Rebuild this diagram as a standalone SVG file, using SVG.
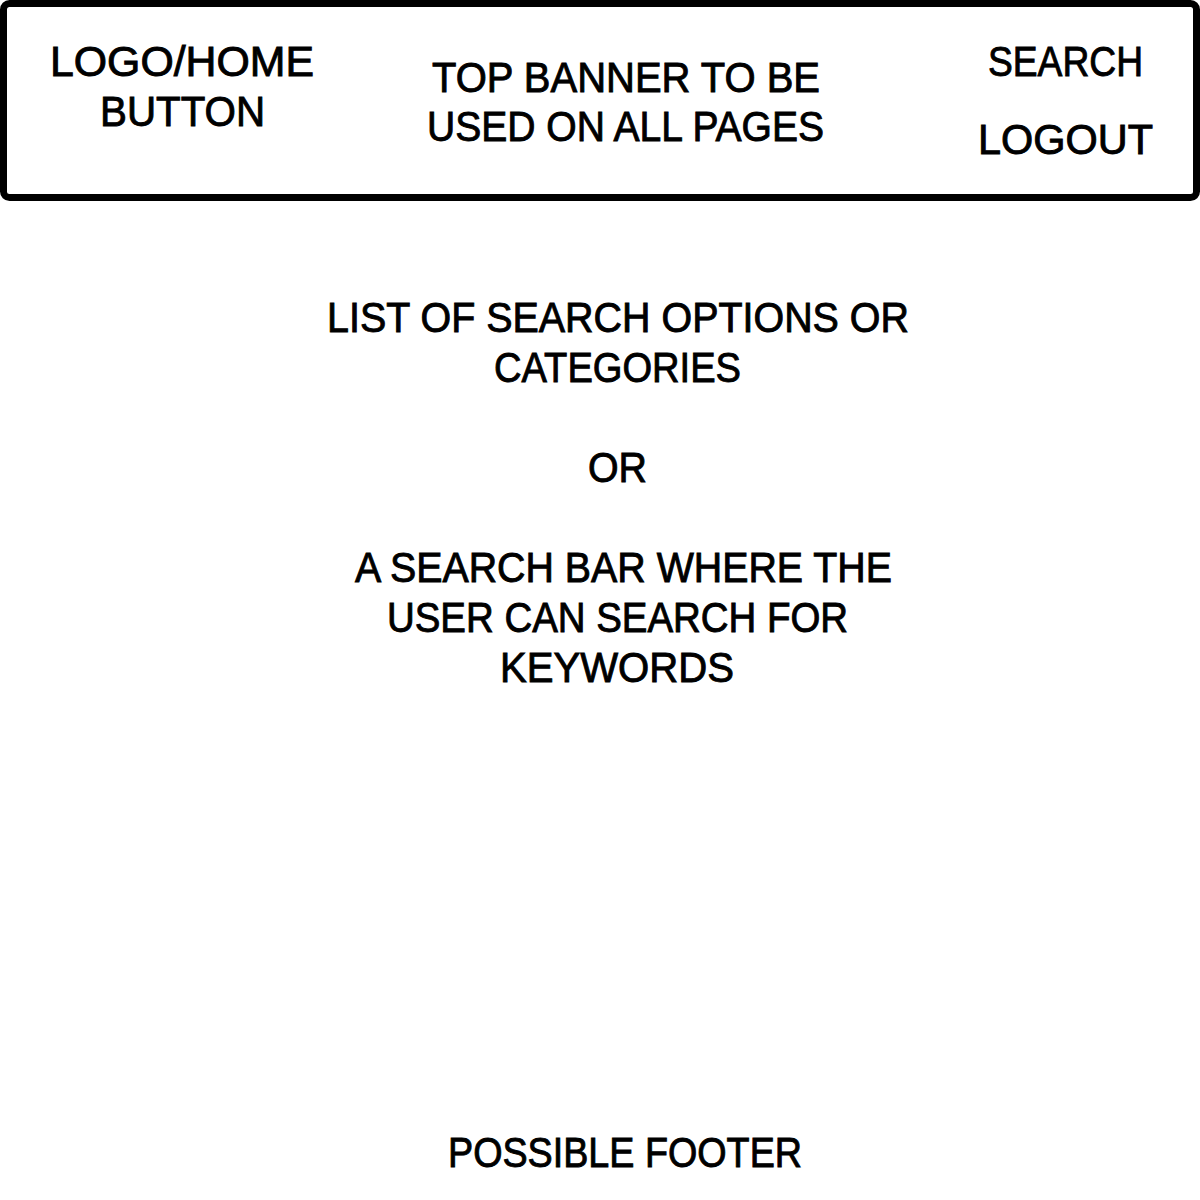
<svg xmlns="http://www.w3.org/2000/svg" width="1200" height="1200" viewBox="0 0 1200 1200">
<style>
.t{font-family:"Liberation Sans","DejaVu Sans",sans-serif;font-size:42px;fill:#000;stroke:#000;stroke-width:0.9px;}
.box{fill:#fff;stroke:#000;stroke-width:7;}
</style>
<rect x="0" y="0" width="1200" height="1200" fill="#fff"/>
<g id="banner">
<rect class="box" x="3.5" y="3.5" width="1193" height="194" rx="6"/>
<text class="t" x="50" y="76" textLength="264" lengthAdjust="spacingAndGlyphs">LOGO/HOME</text>
<text class="t" x="100" y="126" textLength="165" lengthAdjust="spacingAndGlyphs">BUTTON</text>
<text class="t" x="432" y="92" textLength="388" lengthAdjust="spacingAndGlyphs">TOP BANNER TO BE</text>
<text class="t" x="427" y="141" textLength="397" lengthAdjust="spacingAndGlyphs">USED ON ALL PAGES</text>
<text class="t" x="988" y="76" textLength="155" lengthAdjust="spacingAndGlyphs">SEARCH</text>
<text class="t" x="978" y="154" textLength="175" lengthAdjust="spacingAndGlyphs">LOGOUT</text>
</g>
<g id="content">
<text class="t" x="327" y="332" textLength="582" lengthAdjust="spacingAndGlyphs">LIST OF SEARCH OPTIONS OR</text>
<text class="t" x="494" y="382" textLength="247" lengthAdjust="spacingAndGlyphs">CATEGORIES</text>
<text class="t" x="588" y="482" textLength="59" lengthAdjust="spacingAndGlyphs">OR</text>
<text class="t" x="355" y="582" textLength="537" lengthAdjust="spacingAndGlyphs">A SEARCH BAR WHERE THE</text>
<text class="t" x="387" y="632" textLength="461" lengthAdjust="spacingAndGlyphs">USER CAN SEARCH FOR</text>
<text class="t" x="500" y="682" textLength="234" lengthAdjust="spacingAndGlyphs">KEYWORDS</text>
</g>
<g id="footer">
<text class="t" x="448" y="1167" textLength="354" lengthAdjust="spacingAndGlyphs">POSSIBLE FOOTER</text>
</g>
<g id="connectors"/>
</svg>
